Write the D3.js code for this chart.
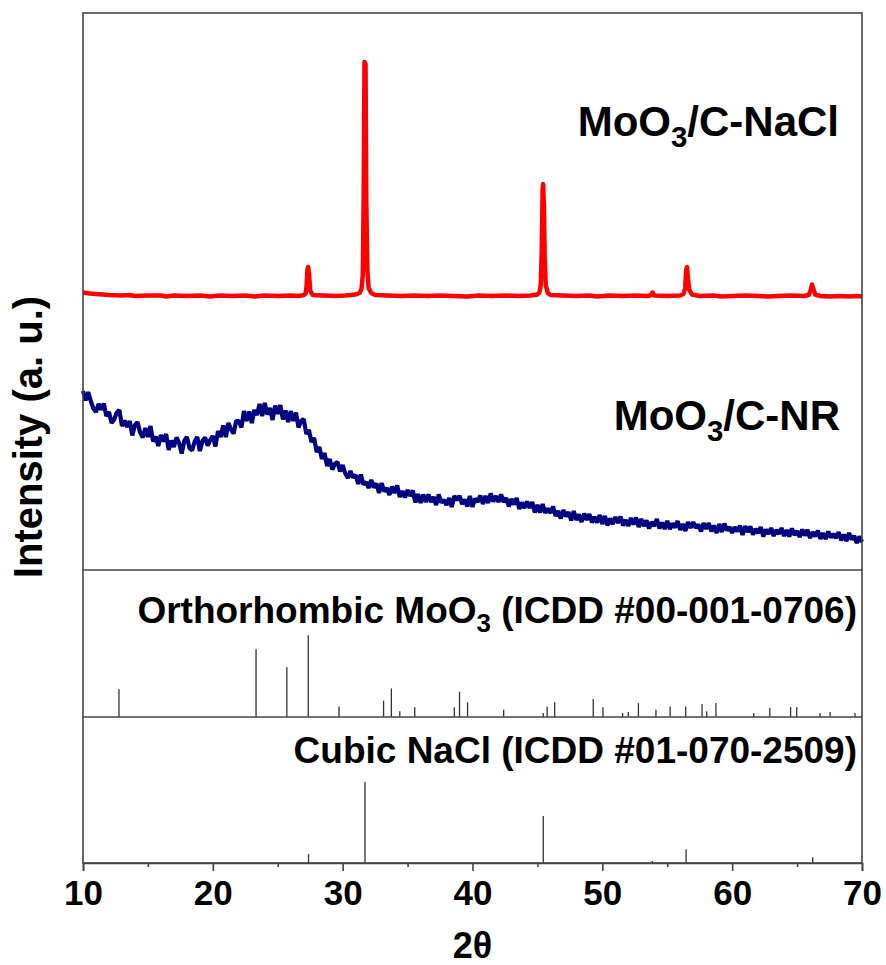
<!DOCTYPE html>
<html>
<head>
<meta charset="utf-8">
<script src="https://d3js.org/d3.v7.min.js"></script>
<style>
  body { margin: 0; background: #fff; }
  text { font-family: "Liberation Sans", Arial, sans-serif; font-weight: bold; fill: #000; }
</style>
</head>
<body>
<div id="xrd"></div>
<script>
// ---- data ----
// MoO3/C-NR, counts every 0.2 deg from 10 to 70
var nrStart = 10, nrStep = 0.2;
var nrCounts = [
  358, 339, 356, 338, 323,  316, 332, 321, 333, 308,  316, 294, 301, 315, 320,
  288, 299, 286, 298, 269,  290, 296, 275, 265, 284,  266, 288, 257, 267, 248,
  270, 257, 272, 240, 259,  246, 265, 254, 233, 258,  266, 244, 239, 257, 266,
  238, 258, 265, 249, 260,  268, 247, 278, 266, 289,  266, 294, 281, 273, 298,
  298, 285, 318, 298, 317,  294, 320, 310, 332, 308,  334, 311, 324, 300, 329,
  312, 330, 301, 319, 296,  318, 298, 315, 285, 298,  302, 272, 280, 256, 264,
  236, 246, 222, 234, 208,  222, 201, 212, 216, 197,  210, 193, 184, 198, 185,
  190, 172, 191, 171, 176,  164, 180, 165, 173, 154,  174, 157, 164, 150, 167,
  154, 169, 146, 158, 145,  160, 148, 159, 135, 152,  134, 151, 136, 151, 136,
  146, 130, 151, 135, 140,  130, 144, 126, 148, 140,  148, 132, 141, 127, 148,
  126, 143, 136, 149, 132,  148, 134, 153, 137, 148,  136, 151, 136, 144, 127,
  142, 131, 144, 122, 135,  124, 137, 124, 136, 115,  130, 115, 132, 114, 123,
  114, 127, 108, 118, 103,  120, 107, 116, 99, 118,  100, 111, 96, 113, 100,
  112, 95, 106, 95, 110,  92, 108, 89, 103, 92,  106, 94, 107, 89, 100,
  88, 104, 91, 105, 86,  102, 88, 99, 83, 96,  88, 102, 83, 95, 82,
  98, 82, 93, 85, 98,  80, 92, 78, 96, 84,  96, 84, 91, 77, 94,
  82, 94, 77, 89, 74,  92, 76, 93, 79, 86,  74, 86, 77, 89, 70,
  88, 76, 87, 71, 82,  74, 86, 67, 81, 72,  84, 68, 80, 72, 84,
  68, 80, 67, 83, 70,  78, 66, 81, 69, 80,  64, 76, 67, 79, 62,
  74, 62, 77, 65, 72,  64, 76, 59, 71, 58,  74, 61, 68, 54, 67,
  56
];

// MoO3/C-NaCl, [2theta, counts], stacked above NR
var naclOffset = 450;
var naclPattern = [
  [10, 105], [10.5, 103], [11, 102], [11.5, 101], [12, 100], [13, 99], [13.6, 100], [14, 98],
  [15, 99], [16, 99], [16.4, 97], [17, 99], [18, 98], [19, 99], [19.8, 97], [20.5, 99],
  [21.5, 98], [22.5, 99], [23.2, 97], [24, 99], [25, 98], [26, 99], [26.6, 98], [27, 100],
  [27.15, 103], [27.22, 118], [27.28, 150], [27.34, 156], [27.42, 138], [27.5, 108], [27.7, 100],
  [28.5, 99], [29.4, 98], [30.2, 99], [31, 101], [31.3, 104], [31.45, 112], [31.55, 140],
  [31.62, 300], [31.68, 566], [31.76, 562], [31.82, 290], [31.9, 150], [32, 114], [32.2, 104],
  [32.5, 100], [33.5, 99], [34.6, 98], [35.5, 99], [36.6, 98], [37.5, 99], [38.5, 98], [39.6, 97],
  [40.5, 99], [41.5, 98], [42.5, 99], [43.5, 98], [44.5, 99], [45, 101], [45.15, 105],
  [45.25, 118], [45.33, 184], [45.4, 312], [45.44, 322], [45.5, 280], [45.56, 176], [45.64, 120],
  [45.8, 104], [46, 100], [47, 99], [48, 98], [49, 99], [49.6, 97], [50.5, 99], [51.5, 98],
  [52.5, 99], [53.5, 98], [53.75, 100], [53.86, 105], [54, 99], [55, 98], [56, 99], [56.25, 102],
  [56.38, 114], [56.46, 150], [56.52, 156], [56.6, 132], [56.7, 110], [56.9, 101], [57.5, 98],
  [58.5, 99], [59.2, 97], [60, 98], [61, 99], [62, 98], [62.8, 97], [63.5, 98], [64.5, 99],
  [65.5, 98], [65.9, 100], [66.05, 110], [66.15, 121], [66.25, 112], [66.4, 101], [66.8, 98],
  [67.5, 97], [68.3, 98], [69, 97], [69.6, 98], [70, 97]
];

// reference cards, [2theta, relative intensity]
var orthoSticks = [
  [12.77, 34], [23.33, 83], [25.70, 61], [27.35, 100], [29.72, 13], [33.15, 20], [33.75, 35],
  [34.40, 7], [35.55, 12], [38.60, 12], [39.00, 31], [39.62, 18], [42.40, 9], [45.45, 5],
  [45.75, 13], [46.33, 18], [49.30, 22], [50.05, 12], [51.56, 5], [52.00, 6], [52.78, 17],
  [54.13, 9], [55.22, 13], [56.42, 13], [57.68, 16], [58.04, 7], [58.75, 17], [61.66, 5],
  [62.90, 11], [64.50, 12], [64.97, 12], [66.77, 5], [67.54, 6], [69.46, 5]
];
var cubicSticks = [
  [27.37, 11], [31.72, 100], [45.45, 58], [53.86, 2.5], [56.45, 17], [66.20, 7]
];

var xTicks = [10, 20, 30, 40, 50, 60, 70];
var xMinorTicks = [15, 25, 35, 45, 55, 65];

// ---- layout ----
var margin = { top: 13, right: 24, bottom: 102, left: 83 },
  width = 886 - margin.left - margin.right,
  height = 965 - margin.top - margin.bottom;
var topH = 557, refH = 147;

var svg = d3.select("#xrd")
  .append("svg")
  .attr("width", width + margin.left + margin.right)
  .attr("height", height + margin.top + margin.bottom)
  .append("g")
  .attr("transform", "translate(" + margin.left + "," + margin.top + ")");

var x = d3.scaleLinear().domain([10, 70]).range([0, width]);
var ySample = d3.scaleLinear().domain([0, 1114]).range([topH, 0]);
var yOrtho = d3.scaleLinear().domain([0, 180]).range([topH + refH, topH]);
var yCubic = d3.scaleLinear().domain([0, 180]).range([height, topH + refH]);

// sample patterns
var nrLine = d3.line()
  .x(function (d, i) { return x(nrStart + i * nrStep); })
  .y(function (d) { return ySample(d); });

svg.append("path")
  .datum(nrCounts)
  .attr("fill", "none")
  .attr("stroke", "#000080")
  .attr("stroke-width", 4.2)
  .attr("stroke-linejoin", "bevel")
  .attr("d", nrLine);

var naclLine = d3.line()
  .x(function (d) { return x(d[0]); })
  .y(function (d) { return ySample(d[1] + naclOffset); });

svg.append("path")
  .datum(naclPattern)
  .attr("fill", "none")
  .attr("stroke", "#ff0000")
  .attr("stroke-width", 4.5)
  .attr("stroke-linejoin", "round")
  .attr("d", naclLine);

// stick patterns
function drawSticks(data, y) {
  svg.append("g")
    .selectAll("line")
    .data(data)
    .enter()
    .append("line")
    .attr("x1", function (d) { return x(d[0]); })
    .attr("x2", function (d) { return x(d[0]); })
    .attr("y1", y(0))
    .attr("y2", function (d) { return y(d[1]); })
    .attr("stroke", "#333")
    .attr("stroke-width", 1.3);
}
drawSticks(orthoSticks, yOrtho);
drawSticks(cubicSticks, yCubic);

// frame + panel dividers
svg.append("rect")
  .attr("width", width)
  .attr("height", height)
  .attr("fill", "none")
  .attr("stroke", "#444")
  .attr("stroke-width", 1.6);
[topH, topH + refH].forEach(function (yy) {
  svg.append("line")
    .attr("x1", 0).attr("x2", width)
    .attr("y1", yy).attr("y2", yy)
    .attr("stroke", "#444")
    .attr("stroke-width", 1.6);
});

// x axis, major + minor ticks outside
var xAxis = svg.append("g")
  .attr("transform", "translate(0," + height + ")")
  .call(d3.axisBottom(x).tickValues(xTicks).tickSize(8).tickPadding(9).tickFormat(d3.format("d")));
xAxis.select(".domain").attr("stroke", "#444").attr("stroke-width", 1.6);
xAxis.selectAll(".tick line").attr("stroke", "#444").attr("stroke-width", 1.6);
xAxis.selectAll("text").style("font-size", "35px").style("font-family", "'Liberation Sans', Arial, sans-serif").style("font-weight", "bold").attr("fill", "#000");

var xMinor = svg.append("g")
  .attr("transform", "translate(0," + height + ")")
  .call(d3.axisBottom(x).tickValues(xMinorTicks).tickSize(4).tickFormat(""));
xMinor.select(".domain").remove();
xMinor.selectAll(".tick line").attr("stroke", "#444").attr("stroke-width", 1.6);

// labels with subscripts
function addLabel(parts, xPos, yPos, size) {
  var t = svg.append("text")
    .attr("x", xPos)
    .attr("y", yPos)
    .attr("text-anchor", "end")
    .style("font-size", size + "px");
  parts.forEach(function (p) {
    if (p.sub) {
      t.append("tspan").attr("dy", size * 0.25).style("font-size", (size * 0.7) + "px").text(p.s);
    } else {
      t.append("tspan").attr("dy", p.back ? -size * 0.25 : 0).text(p.s);
    }
  });
}

addLabel([{ s: "MoO" }, { s: "3", sub: true }, { s: "/C-NaCl", back: true }], 756, 123, 42);
addLabel([{ s: "MoO" }, { s: "3", sub: true }, { s: "/C-NR", back: true }], 757, 417, 42);
addLabel([{ s: "Orthorhombic MoO" }, { s: "3", sub: true }, { s: " (ICDD #00-001-0706)", back: true }], 774, 610, 37);
addLabel([{ s: "Cubic NaCl (ICDD #01-070-2509)" }], 774, 750, 37);

// axis titles
svg.append("text")
  .attr("text-anchor", "middle")
  .attr("x", width / 2)
  .attr("y", 945)
  .style("font-size", "36px")
  .text("2θ");

svg.append("text")
  .attr("text-anchor", "middle")
  .attr("transform", "translate(-41," + 424 + ")rotate(-90)")
  .style("font-size", "40px")
  .text("Intensity (a. u.)");
</script>
</body>
</html>
